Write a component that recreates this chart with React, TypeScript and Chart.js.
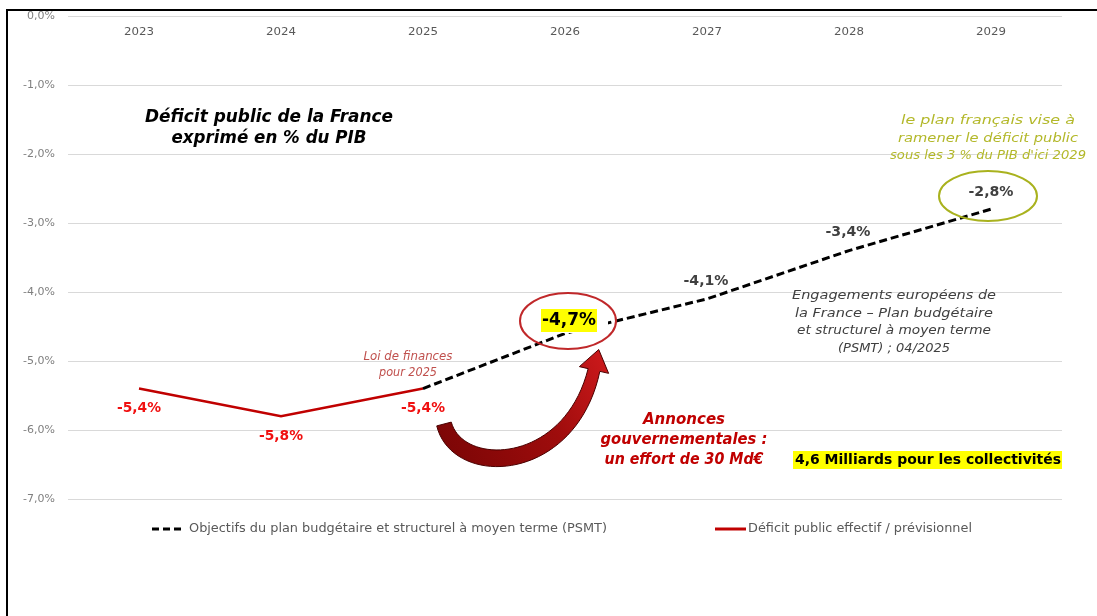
import React, { useEffect, useRef } from "react";
import { Chart, registerables } from "chart.js";

Chart.register(...registerables);

// ---- data ----
const years = ["2023", "2024", "2025", "2026", "2027", "2028", "2029"];
const deficitEffectif: (number | null)[] = [-5.4, -5.8, -5.4, null, null, null, null];
const objectifsPSMT: (number | null)[] = [null, null, -5.4, -4.6, -4.1, -3.4, -2.8];
const effectifLabels: (string | null)[] = ["-5,4%", "-5,8%", "-5,4%", null, null, null, null];
const psmtLabels: (string | null)[] = [null, null, null, "-4,7%", "-4,1%", "-3,4%", "-2,8%"];
const yMin = -7;
const yMax = 0;
const legendLabels = [
  "Objectifs du plan budgétaire et structurel à moyen terme (PSMT)",
  "Déficit public effectif / prévisionnel",
];
const titleLines = ["Déficit public de la France", "exprimé en % du PIB"];
const loiLines = ["Loi de finances", "pour 2025"];
const planLines = ["le plan français vise à", "ramener le déficit public", "sous les 3 % du PIB d'ici 2029"];
const engagementLines = [
  "Engagements européens de",
  "la France – Plan budgétaire",
  "et structurel à moyen terme",
  "(PSMT) ; 04/2025",
];
const annonceLines = ["Annonces", "gouvernementales :", "un effort de 30 Md€"];
const collectivitesText = "4,6 Milliards pour les collectivités";

const FONT = "'DejaVu Sans', Lato, sans-serif";
const RED_LINE = "#c00000";
const RED_LABEL = "#f01010";

function txt(
  ctx: CanvasRenderingContext2D,
  s: string,
  x: number,
  y: number,
  font: string,
  color: string,
  align: CanvasTextAlign = "center",
  width?: number
) {
  ctx.save();
  ctx.font = font;
  ctx.fillStyle = color;
  ctx.textAlign = align;
  ctx.textBaseline = "middle";
  let sx = 1;
  if (width) {
    const w = ctx.measureText(s).width;
    if (w > 0) sx = width / w;
  }
  ctx.translate(x, y);
  ctx.scale(sx, 1);
  ctx.fillText(s, 0, 0);
  ctx.restore();
}

function bez(p: number[][], t: number) {
  const u = 1 - t;
  const a = u * u * u, b = 3 * u * u * t, c = 3 * u * t * t, d = t * t * t;
  return [
    a * p[0][0] + b * p[1][0] + c * p[2][0] + d * p[3][0],
    a * p[0][1] + b * p[1][1] + c * p[2][1] + d * p[3][1],
  ];
}
function bezD(p: number[][], t: number) {
  const u = 1 - t;
  const dx = 3 * u * u * (p[1][0] - p[0][0]) + 6 * u * t * (p[2][0] - p[1][0]) + 3 * t * t * (p[3][0] - p[2][0]);
  const dy = 3 * u * u * (p[1][1] - p[0][1]) + 6 * u * t * (p[2][1] - p[1][1]) + 3 * t * t * (p[3][1] - p[2][1]);
  const l = Math.hypot(dx, dy) || 1;
  return [dx / l, dy / l];
}

function drawArrow(ctx: CanvasRenderingContext2D) {
  const P = [
    [444, 424],
    [458, 478],
    [570, 474],
    [594, 370],
  ];
  const N = 40;
  const left: number[][] = [];
  const right: number[][] = [];
  for (let i = 0; i <= N; i++) {
    const t = i / N;
    const [x, y] = bez(P, t);
    const [tx, ty] = bezD(P, t);
    const w = 7.5 + 1.5 * Math.sin(Math.PI * t) - 1.5 * t;
    left.push([x - ty * w, y + tx * w]);
    right.push([x + ty * w, y - tx * w]);
  }
  const [ex, ey] = bez(P, 1);
  const [tx, ty] = bezD(P, 1);
  const hw = 15;
  const hl = 21;
  ctx.save();
  const g = ctx.createLinearGradient(440, 440, 600, 360);
  g.addColorStop(0, "#7d0606");
  g.addColorStop(0.6, "#9e0c0c");
  g.addColorStop(1, "#c8181a");
  ctx.fillStyle = g;
  ctx.strokeStyle = "#4a0000";
  ctx.lineWidth = 1;
  ctx.beginPath();
  ctx.moveTo(left[0][0], left[0][1]);
  for (const p of left) ctx.lineTo(p[0], p[1]);
  ctx.lineTo(ex - ty * hw, ey + tx * hw);
  ctx.lineTo(ex + tx * hl, ey + ty * hl);
  ctx.lineTo(ex + ty * hw, ey - tx * hw);
  for (let i = right.length - 1; i >= 0; i--) ctx.lineTo(right[i][0], right[i][1]);
  ctx.closePath();
  ctx.fill();
  ctx.stroke();
  ctx.restore();
}

const overlayPlugin = {
  id: "overlay",
  afterDraw(chart: any) {
    const ctx: CanvasRenderingContext2D = chart.ctx;
    const xs = chart.scales.x;
    const ys = chart.scales.y;
    ctx.save();

    // frame
    ctx.fillStyle = "#000";
    ctx.fillRect(6, 9, 2, 616 - 9);
    ctx.fillRect(6, 9, 1097 - 6, 2);

    // year labels (inside top of plot)
    years.forEach((yr, i) => {
      txt(ctx, yr, xs.getPixelForValue(i), 32, `11px ${FONT}`, "#595959", "center", 30);
    });

    // title
    txt(ctx, titleLines[0], 269, 118, `italic bold 17px ${FONT}`, "#000", "center", 248);
    txt(ctx, titleLines[1], 269, 139, `italic bold 17px ${FONT}`, "#000", "center", 195);

    // effectif labels
    effectifLabels.forEach((l, i) => {
      const v = deficitEffectif[i];
      if (!l || v == null) return;
      txt(ctx, l, xs.getPixelForValue(i), ys.getPixelForValue(v) + 20, `bold 14.5px ${FONT}`, RED_LABEL, "center", 44);
    });

    // loi de finances
    txt(ctx, loiLines[0], 408, 357, `italic 11.5px ${FONT}`, "#c0504d", "center", 89);
    txt(ctx, loiLines[1], 408, 373, `italic 11.5px ${FONT}`, "#c0504d", "center", 58);

    // PSMT labels
    psmtLabels.forEach((l, i) => {
      const v = objectifsPSMT[i];
      if (!l || v == null) return;
      const px = xs.getPixelForValue(i);
      const py = ys.getPixelForValue(v);
      if (i === 3) {
        ctx.fillStyle = "#fff";
        ctx.fillRect(556, 307, 52, 26);
        ctx.fillStyle = "#ffff00";
        ctx.fillRect(541, 309, 56, 23);
        txt(ctx, l, px + 4, py - 13, `bold 18px ${FONT}`, "#000", "center", 54);
        ctx.strokeStyle = "#c0282a";
        ctx.lineWidth = 2;
        ctx.beginPath();
        ctx.ellipse(568, 321, 48, 28, 0, 0, Math.PI * 2);
        ctx.stroke();
      } else if (i === 6) {
        txt(ctx, l, px, py - 17, `bold 14.5px ${FONT}`, "#404040", "center", 45);
        ctx.strokeStyle = "#a9b21e";
        ctx.lineWidth = 2;
        ctx.beginPath();
        ctx.ellipse(988, 196, 49, 25, 0, 0, Math.PI * 2);
        ctx.stroke();
      } else {
        txt(ctx, l, px - 1, py - 18, `bold 14.5px ${FONT}`, "#404040", "center", 45);
      }
    });

    // plan text (olive)
    const planW = [174, 180, 196];
    planLines.forEach((l, i) => txt(ctx, l, 988, 121 + i * 17.5, `italic 13px ${FONT}`, "#b3b82a", "center", planW[i]));

    // engagements
    const engW = [204, 198, 194, 112];
    engagementLines.forEach((l, i) => txt(ctx, l, 894, 296 + i * 17.5, `italic 13px ${FONT}`, "#404040", "center", engW[i]));

    // annonces
    const annW = [82, 167, 159];
    annonceLines.forEach((l, i) => txt(ctx, l, 684, 420 + i * 20, `italic bold 15.5px ${FONT}`, "#c00000", "center", annW[i]));

    // collectivités
    ctx.fillStyle = "#ffff00";
    ctx.fillRect(793, 451, 269, 18);
    txt(ctx, collectivitesText, 795, 460, `bold 14px ${FONT}`, "#000", "left", 266);

    // arrow
    drawArrow(ctx);

    // legend
    ctx.strokeStyle = "#000";
    ctx.lineWidth = 3;
    ctx.setLineDash([7, 4]);
    ctx.beginPath();
    ctx.moveTo(152, 529);
    ctx.lineTo(185, 529);
    ctx.stroke();
    ctx.setLineDash([]);
    txt(ctx, legendLabels[0], 189, 529, `12px ${FONT}`, "#595959", "left", 418);
    ctx.strokeStyle = RED_LINE;
    ctx.beginPath();
    ctx.moveTo(715, 529);
    ctx.lineTo(746, 529);
    ctx.stroke();
    txt(ctx, legendLabels[1], 748, 529, `12px ${FONT}`, "#595959", "left", 224);

    ctx.restore();
  },
};

export default function App() {
  const ref = useRef<HTMLCanvasElement | null>(null);
  useEffect(() => {
    if (!ref.current) return;
    const chart = new Chart(ref.current, {
      type: "line",
      data: {
        labels: years,
        datasets: [
          {
            label: legendLabels[0],
            data: objectifsPSMT,
            borderColor: "#000",
            borderWidth: 3,
            borderDash: [8, 4],
            pointRadius: 0,
            fill: false,
            tension: 0,
          },
          {
            label: legendLabels[1],
            data: deficitEffectif,
            borderColor: RED_LINE,
            borderWidth: 2.5,
            pointRadius: 0,
            fill: false,
            tension: 0,
          },
        ],
      },
      options: {
        responsive: false,
        animation: false,
        devicePixelRatio: 1,
        layout: { padding: { left: 0, right: 35, top: 16, bottom: 117 } },
        plugins: { legend: { display: false }, tooltip: { enabled: false } },
        scales: {
          x: { type: "category", display: false, offset: true },
          y: {
            min: yMin,
            max: yMax,
            afterFit: (s: any) => {
              s.width = 68;
              s.paddingTop = 0;
              s.paddingBottom = 0;
            },
            ticks: {
              stepSize: 1,
              padding: 13,
              color: "#7f7f7f",
              font: { family: FONT, size: 11 },
              callback: (v: any) => Number(v).toFixed(1).replace(".", ",").replace("-0,0", "0,0") + "%",
            },
            grid: { color: "#d9d9d9", lineWidth: 1, drawTicks: false },
            border: { display: false },
          },
        },
      },
      plugins: [overlayPlugin],
    });
    return () => chart.destroy();
  }, []);
  return (
    <div style={{ position: "absolute", left: 0, top: 0, width: 1097, height: 616, background: "#fff" }}>
      <canvas ref={ref} width={1097} height={616} style={{ width: 1097, height: 616, display: "block" }} />
    </div>
  );
}
